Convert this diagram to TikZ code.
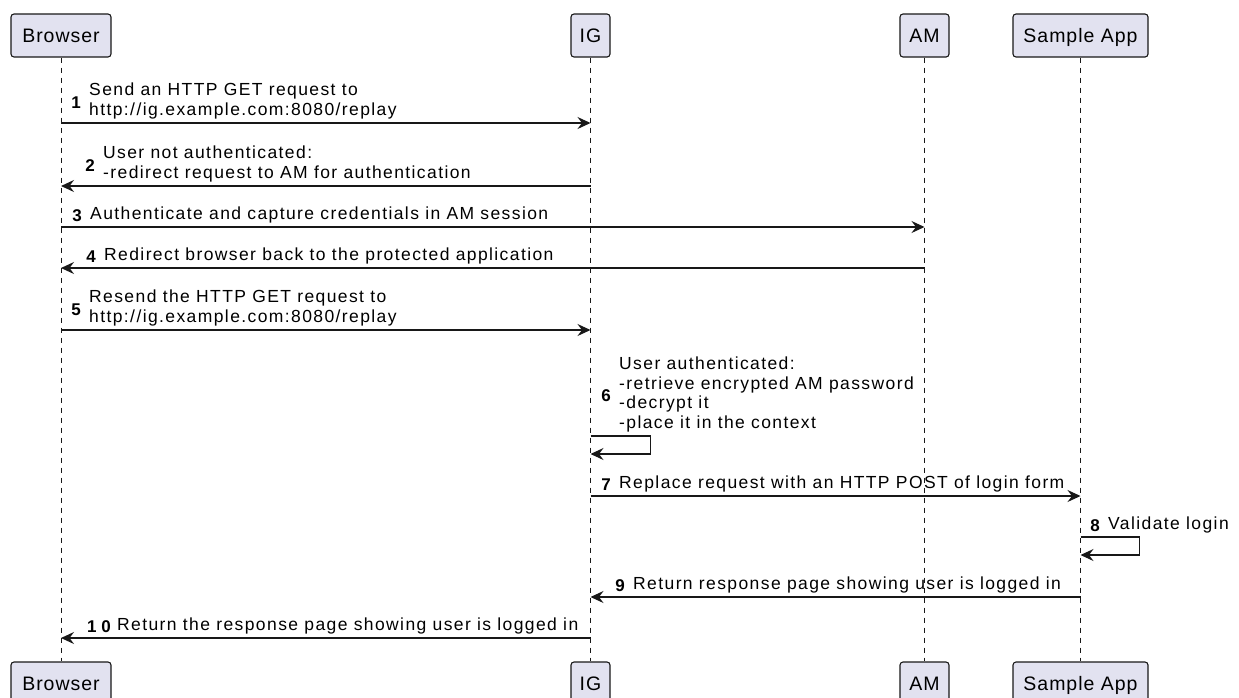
\documentclass[tikz,border=0pt]{standalone}
\usepackage{fontspec}
\setmainfont{Liberation Sans}
\usetikzlibrary{arrows.meta,positioning}
\definecolor{actfill}{HTML}{E2E2F0}
\definecolor{linegray}{HTML}{181818}

\begin{document}
\begin{tikzpicture}[x=1pt,y=-1pt,
    actor/.style={draw=linegray,line width=1.1pt,fill=actfill,rounded corners=3pt,
      minimum height=43pt,inner sep=0pt,text height=16pt,text depth=2pt,
      font=\fontsize{19.5}{23}\selectfont\addfontfeature{LetterSpace=5}},
    life/.style={linegray,line width=0.9pt,dash pattern=on 5pt off 5pt},
    msg/.style={linegray,line width=1.2pt,-{Stealth[length=13pt,width=12pt,inset=4.5pt]}},
    txt/.style={anchor=south west,inner sep=0pt,align=left,
      font=\fontsize{17.5}{19.5}\selectfont\addfontfeature{LetterSpace=8}},
    num/.style={inner sep=0pt,font=\fontsize{17}{19.5}\selectfont\bfseries}]
  \useasboundingbox (0,0) rectangle (1239,697);

  % participants
  \node[actor,minimum width=100pt] (brT) at (61,35.5) {Browser};
  \node[actor,minimum width=39pt] (igT) at (590.5,35.5) {IG};
  \node[actor,minimum width=49pt] (amT) at (924.5,35.5) {AM};
  \node[actor,minimum width=135pt] (apT) at (1080.5,35.5) {Sample App};
  \node[actor,minimum width=100pt] (brB) at (61,683.5) {Browser};
  \node[actor,minimum width=39pt] (igB) at (590.5,683.5) {IG};
  \node[actor,minimum width=49pt] (amB) at (924.5,683.5) {AM};
  \node[actor,minimum width=135pt] (apB) at (1080.5,683.5) {Sample App};
  \foreach \p in {br,ig,am,ap}
    \draw[life] (\p T) -- (\p B);

  % messages
  \draw[msg] (brT |- 0,123) -- (igT |- 0,123);
  \node[txt] (t1) at (89,121.5) {Send an HTTP GET request to\\http://ig.example.com:8080/replay\strut};
  \node[num,left=8pt of t1] (n1) {1};

  \draw[msg] (igT |- 0,186) -- (brT |- 0,186);
  \node[txt] (t2) at (103,184.5) {User not authenticated:\\-redirect request to AM for authentication\strut};
  \node[num,left=8pt of t2] (n2) {2};

  \draw[msg] (brT |- 0,227) -- (amT |- 0,227);
  \node[txt] (t3) at (90,225.5) {Authenticate and capture credentials in AM session\strut};
  \node[num,left=8pt of t3] (n3) {3};

  \draw[msg] (amT |- 0,268) -- (brT |- 0,268);
  \node[txt] (t4) at (104,266.5) {Redirect browser back to the protected application\strut};
  \node[num,left=8pt of t4] (n4) {4};

  \draw[msg] (brT |- 0,330) -- (igT |- 0,330);
  \node[txt] (t5) at (89,328.5) {Resend the HTTP GET request to\\http://ig.example.com:8080/replay\strut};
  \node[num,left=8pt of t5] (n5) {5};

  \draw[msg] (igT |- 0,436) -- ++(60,0) -- ++(0,18) -- (igT |- 0,454);
  \node[txt] (t6) at (619,434.5) {User authenticated:\\-retrieve encrypted AM password\\-decrypt it\\-place it in the context\strut};
  \node[num,left=8pt of t6] (n6) {6};

  \draw[msg] (igT |- 0,496) -- (apT |- 0,496);
  \node[txt] (t7) at (619,494.5) {Replace request with an HTTP POST of login form\strut};
  \node[num,left=8pt of t7] (n7) {7};

  \draw[msg] (apT |- 0,537) -- ++(59,0) -- ++(0,18) -- (apT |- 0,555);
  \node[txt] (t8) at (1108,535.5) {Validate login\strut};
  \node[num,left=8pt of t8] (n8) {8};

  \draw[msg] (apT |- 0,597) -- (igT |- 0,597);
  \node[txt] (t9) at (633,595.5) {Return response page showing user is logged in\strut};
  \node[num,left=8pt of t9] (n9) {9};

  \draw[msg] (igT |- 0,638) -- (brT |- 0,638);
  \node[txt] (t10) at (117,636.5) {Return the response page showing user is logged in\strut};
  \node[num,left=6pt of t10] (n10) {1 0};
\end{tikzpicture}
\end{document}
